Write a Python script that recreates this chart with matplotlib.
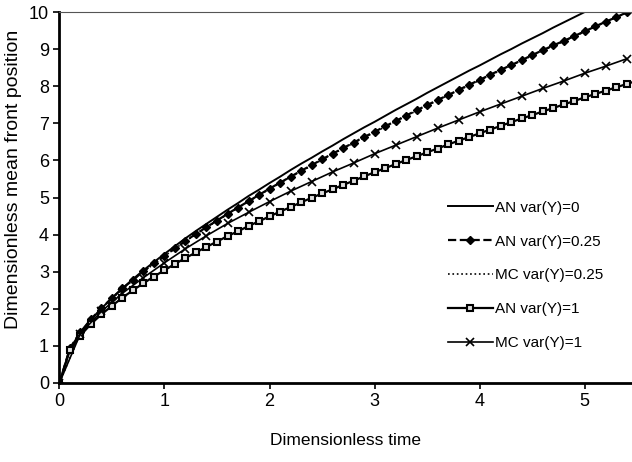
import numpy as np
import matplotlib.pyplot as plt

# time grids (dimensionless)
t_an = np.round(np.arange(0, 5.51, 0.1), 2)
t_an0 = np.round(np.arange(0, 5.21, 0.1), 2)
t_mc = np.round(np.arange(0, 5.41, 0.2), 2)

an_var0 = [0, 0.93, 1.36, 1.71, 2.01, 2.29, 2.55, 2.80, 3.04, 3.26, 3.48,
           3.69, 3.90, 4.10, 4.29, 4.48, 4.67, 4.85, 5.04, 5.21, 5.39,
           5.56, 5.74, 5.91, 6.07, 6.24, 6.40, 6.57, 6.73, 6.89, 7.04,
           7.20, 7.36, 7.51, 7.66, 7.82, 7.97, 8.12, 8.27, 8.42, 8.56,
           8.71, 8.86, 9.00, 9.15, 9.29, 9.43, 9.58, 9.72, 9.86, 10.00,
           10.14, 10.28]

an_var025 = [0, 0.94, 1.37, 1.72, 2.02, 2.29, 2.55, 2.78, 3.01, 3.23, 3.43,
             3.63, 3.83, 4.02, 4.20, 4.38, 4.56, 4.73, 4.90, 5.07, 5.24,
             5.40, 5.56, 5.72, 5.87, 6.03, 6.18, 6.33, 6.48, 6.63, 6.77,
             6.92, 7.06, 7.21, 7.35, 7.49, 7.63, 7.76, 7.90, 8.04, 8.17,
             8.31, 8.44, 8.57, 8.70, 8.84, 8.97, 9.10, 9.22, 9.35, 9.48,
             9.61, 9.74, 9.86, 9.99, 10.11]

mc_var025 = [0, 1.36, 2.01, 2.54, 3.00, 3.42, 3.82, 4.19, 4.55, 4.89, 5.23,
             5.55, 5.86, 6.17, 6.47, 6.76, 7.05, 7.34, 7.62, 7.89, 8.16,
             8.43, 8.69, 8.96, 9.21, 9.47, 9.73, 9.98]

an_var1 = [0, 0.89, 1.28, 1.59, 1.85, 2.08, 2.30, 2.50, 2.69, 2.87, 3.04,
           3.21, 3.37, 3.52, 3.67, 3.81, 3.96, 4.09, 4.23, 4.36, 4.49,
           4.62, 4.74, 4.87, 4.99, 5.11, 5.22, 5.34, 5.45, 5.57, 5.68,
           5.79, 5.90, 6.01, 6.11, 6.22, 6.32, 6.43, 6.53, 6.63, 6.73,
           6.83, 6.93, 7.03, 7.13, 7.22, 7.32, 7.41, 7.51, 7.60, 7.70,
           7.79, 7.88, 7.97, 8.06, 8.15]

mc_var1 = [0, 1.33, 1.93, 2.42, 2.84, 3.24, 3.62, 3.97, 4.30, 4.60, 4.89,
           5.17, 5.43, 5.69, 5.93, 6.18, 6.41, 6.64, 6.87, 7.09, 7.31,
           7.52, 7.73, 7.94, 8.14, 8.35, 8.54, 8.74]

labels = ['AN var(Y)=0', 'AN var(Y)=0.25', 'MC var(Y)=0.25', 'AN var(Y)=1', 'MC var(Y)=1']

plt.rcParams['font.family'] = ['Liberation Sans', 'DejaVu Sans']

fig = plt.figure(figsize=(6.32, 4.62), dpi=100)
ax = fig.add_axes([0.094, 0.171, 0.906, 0.803])

ax.plot(t_an0, an_var0, '-', color='black', lw=1.4, label=labels[0])
ax.plot(t_an, an_var025, '--', color='black', lw=1.6, marker='D', ms=4.2,
        mfc='black', mec='black', label=labels[1])
ax.plot(t_mc, mc_var025, ':', color='black', lw=1.2, label=labels[2])
ax.plot(t_an, an_var1, '-', color='black', lw=1.6, marker='s', ms=4.8,
        mfc='#dddddd', mec='black', mew=1.5, label=labels[3])
ax.plot(t_mc, mc_var1, '-', color='black', lw=1.2, marker='x', ms=6,
        mew=1.2, label=labels[4])

ax.set_xlim(0, 5.45)
ax.set_ylim(0, 10)
ax.set_xticks(range(0, 6))
ax.set_yticks(range(0, 11))
ax.tick_params(direction='out', length=4, width=1.2, labelsize=13)

ax.spines['right'].set_visible(False)
ax.spines['left'].set_linewidth(2)
ax.spines['bottom'].set_linewidth(2)
ax.spines['top'].set_linewidth(0.8)
ax.spines['top'].set_color('#555555')

ax.set_xlabel('Dimensionless time', fontsize=12.5, labelpad=16)
ax.set_ylabel('Dimensionless mean front position', fontsize=14)
ax.yaxis.set_label_coords(-0.065, 0.55)

ax.legend(loc='center left', bbox_to_anchor=(0.665, 0.29), frameon=False,
          fontsize=11, handlelength=2.95, handletextpad=0.15, labelspacing=1.3,
          borderpad=0)

fig.savefig('out.png', dpi=100)
